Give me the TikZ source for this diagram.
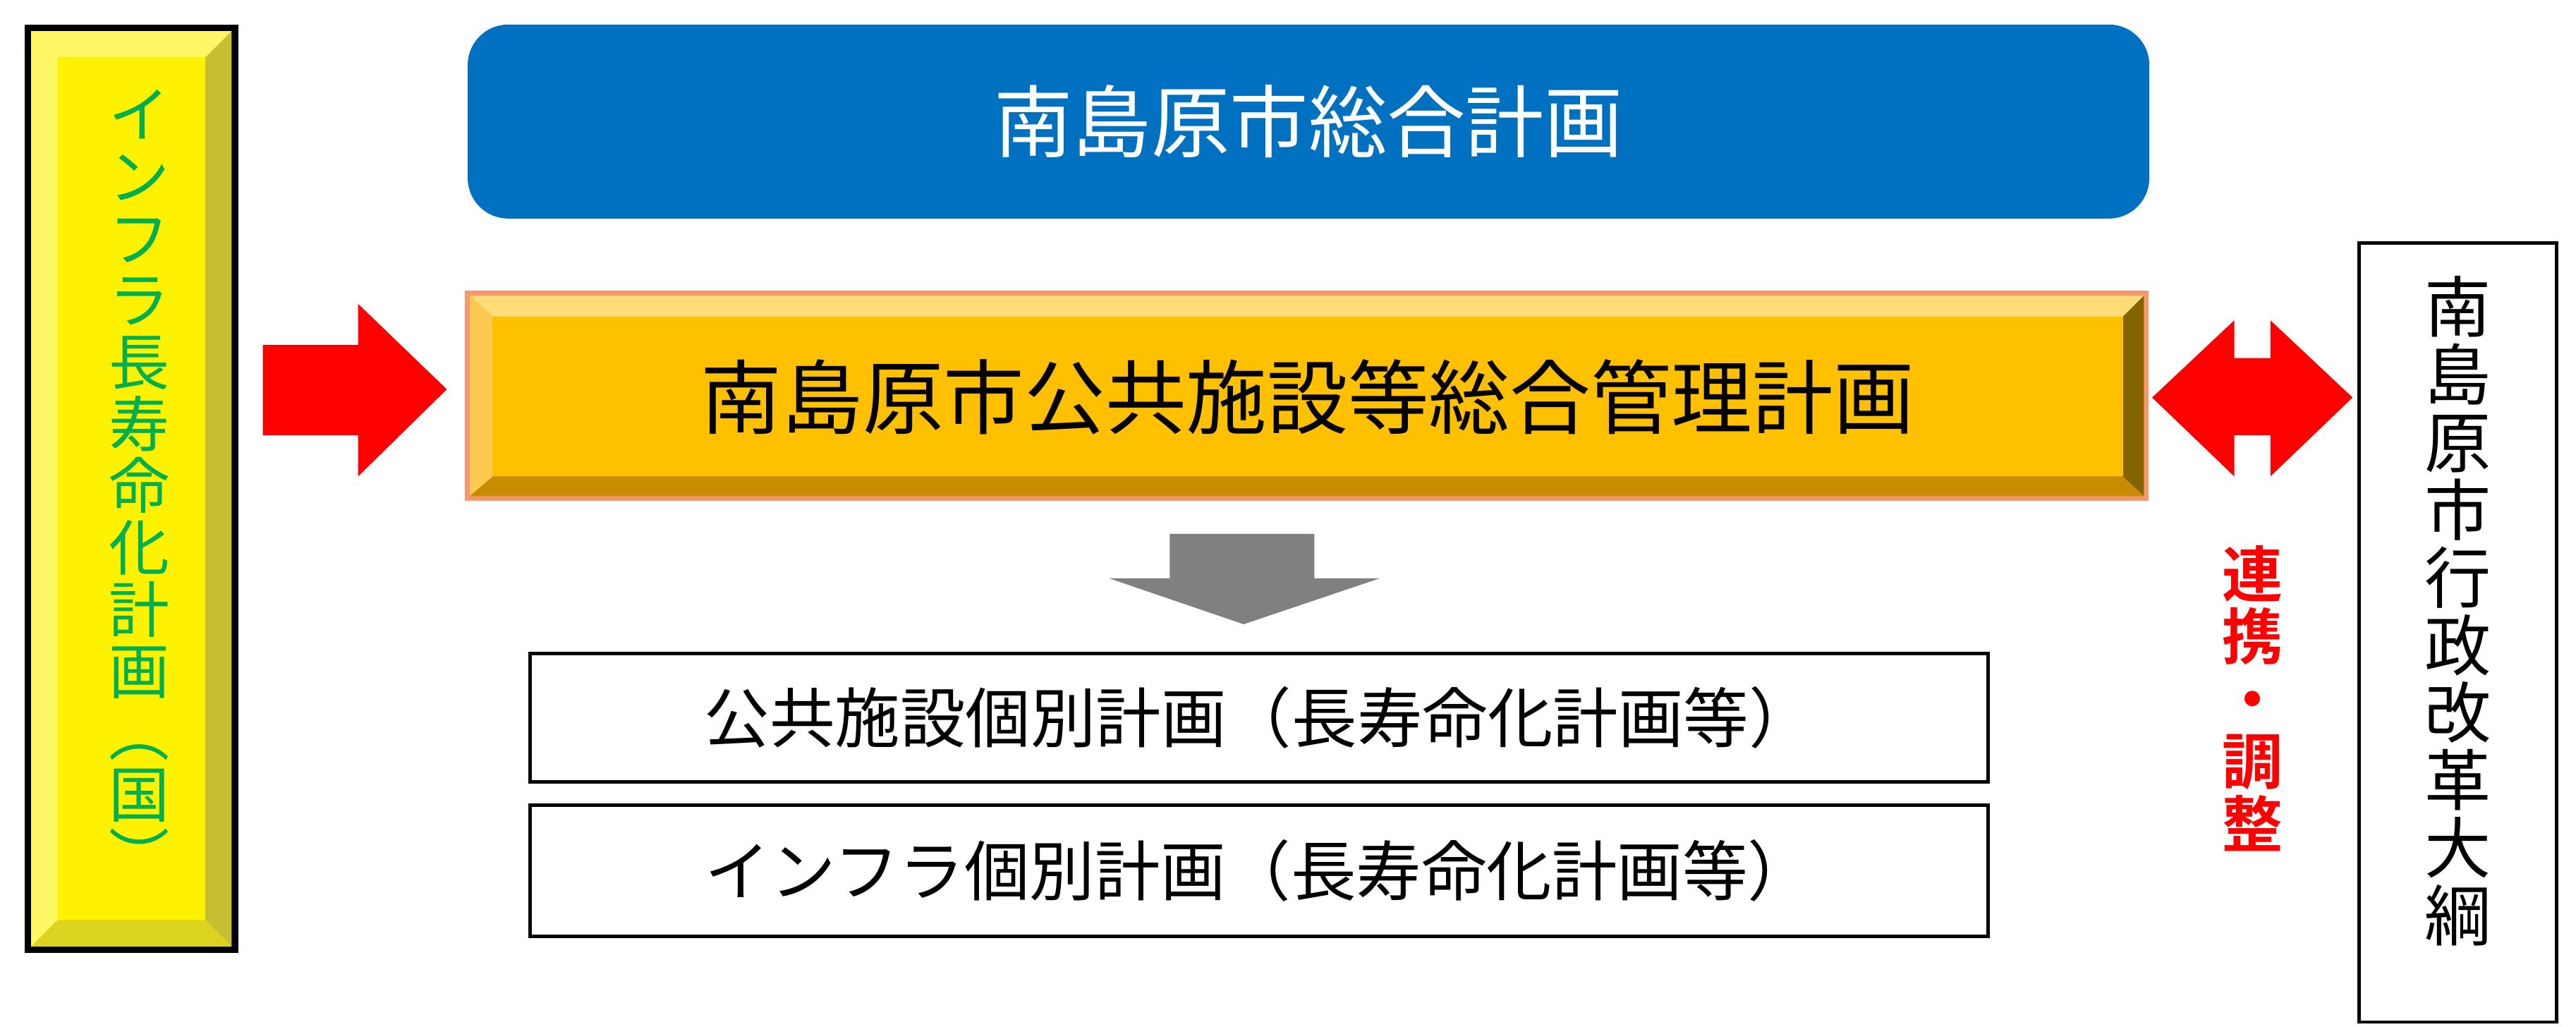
\documentclass[tikz,border=0pt]{standalone}
\usepackage{fontspec}
\setmainfont{Noto Sans CJK JP}
\newfontfamily\jpb{Noto Sans CJK JP Bold}
\definecolor{cblue}{RGB}{0,112,192}
\definecolor{cor}{RGB}{255,192,0}
\definecolor{corl}{RGB}{255,220,120}
\definecolor{corm}{RGB}{255,200,80}
\definecolor{cord}{RGB}{130,100,0}
\definecolor{cors}{RGB}{200,140,0}
\definecolor{cedge}{RGB}{248,150,110}
\definecolor{cgreen}{RGB}{0,176,80}
\begin{document}
\begin{tikzpicture}[x=0.01cm,y=-0.01cm]
\tikzset{
 wbox/.style={draw=black,line width=0.6pt,fill=white},
 vtext/.style={align=center,inner sep=0pt},
}
\useasboundingbox (0,0) rectangle (1568,625);
% left yellow
\fill[black] (15,15) rectangle (145,580);
\fill[yellow] (19,19) rectangle (141,576);
\fill[yellow!60!white] (19,19)--(141,19)--(125,35)--(35,35)--cycle;
\fill[yellow!75!black] (141,19)--(141,576)--(125,560)--(125,35)--cycle;
\fill[yellow!85!black] (19,576)--(141,576)--(125,560)--(35,560)--cycle;
\fill[yellow!60!white] (19,19)--(35,35)--(35,560)--(19,576)--cycle;
\fill[yellow] (35,35) rectangle (125,560);
\node[vtext,text=cgreen,font=\fontsize{10.5pt}{10.7pt}\selectfont] (lt) at (85,295)
 {イ\\ン\\フ\\ラ\\長\\寿\\命\\化\\計\\画\\︵\\国\\︶};
% red arrow
\fill[red] (160,210)--(218,210)--(218,185)--(272,237)--(218,290)--(218,265)--(160,265)--cycle;
% blue
\node[fill=cblue,rounded corners=7pt,minimum width=10.23cm,minimum height=1.18cm,text=white,font=\fontsize{13.6pt}{15pt}\selectfont] (blue) at (796.5,74) {南島原市総合計画};
% orange bevel
\fill[cedge] (283,177) rectangle (1308,305);
\fill[corl] (286,180)--(1305,180)--(1292,193)--(300,193)--cycle;
\fill[corm] (286,180)--(300,193)--(300,290)--(286,302)--cycle;
\fill[cord] (1305,180)--(1305,302)--(1292,290)--(1292,193)--cycle;
\fill[cors] (286,302)--(1305,302)--(1292,290)--(300,290)--cycle;
\node[fill=cor,minimum width=9.92cm,minimum height=0.97cm,inner sep=0pt,font=\fontsize{14pt}{15pt}\selectfont] (main) at (796,241.5) {南島原市公共施設等総合管理計画};
% gray arrow
\fill[gray] (712,325)--(800,325)--(800,352)--(840,352)--(757,380)--(675,352)--(712,352)--cycle;
% boxes
\node[wbox,minimum width=8.87cm,minimum height=0.78cm,font=\fontsize{11.3pt}{12pt}\selectfont] (b1) at (766.5,437) {公共施設個別計画（長寿命化計画等）};
\node[wbox,minimum width=8.87cm,minimum height=0.80cm,font=\fontsize{11.3pt}{12pt}\selectfont] (b2) at (766.5,530) {インフラ個別計画（長寿命化計画等）};
% double arrow
\fill[red] (1310,242)--(1360,195)--(1360,218)--(1382,218)--(1382,195)--(1432,242)--(1382,290)--(1382,265)--(1360,265)--(1360,290)--cycle;
\node[vtext,text=red,font=\jpb\fontsize{10.5pt}{10.8pt}\selectfont] (rt) at (1371,425) {連\\携\\・\\調\\整};
% right box
\node[wbox,minimum width=1.20cm,minimum height=4.74cm] (rb) at (1496,385) {};
\node[vtext,font=\fontsize{11.5pt}{11.7pt}\selectfont] (rbt) at (1496,372) {南\\島\\原\\市\\行\\政\\改\\革\\大\\綱};
\end{tikzpicture}
\end{document}
